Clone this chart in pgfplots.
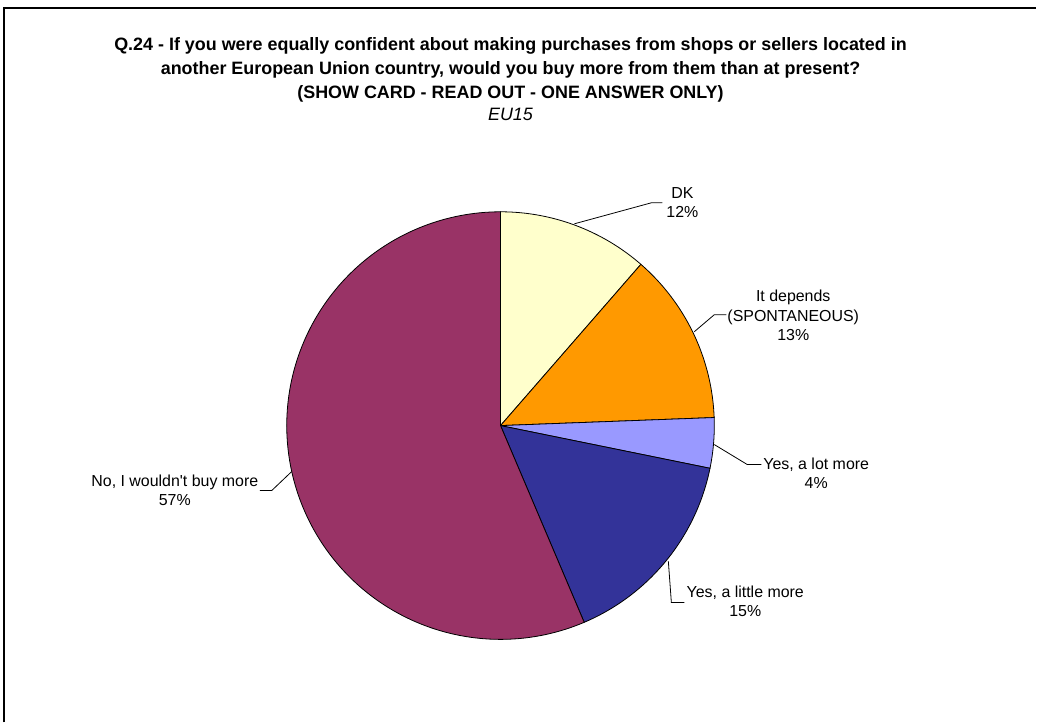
\documentclass[border=0pt]{standalone}
\usepackage{fontspec}
\setmainfont{Liberation Sans}[Ligatures=TeXOff]
\usepackage{pgfplots}
\pgfplotsset{compat=1.18}
\definecolor{cDK}{HTML}{FFFFCC}
\definecolor{cDep}{HTML}{FF9900}
\definecolor{cLot}{HTML}{9999FF}
\definecolor{cLit}{HTML}{333399}
\definecolor{cNo}{HTML}{993366}
\begin{document}
\begin{tikzpicture}[x=1bp,y=1bp]
% shares of the pie, in percent (as drawn)
\pgfmathsetmacro\vDK{11.4}
\pgfmathsetmacro\vDep{13.0}
\pgfmathsetmacro\vLot{3.8}
\pgfmathsetmacro\vLit{15.4}
\pgfmathsetmacro\vNo{56.4}
\pgfmathsetmacro\aA{90}
\pgfmathsetmacro\aB{\aA-3.6*\vDK}
\pgfmathsetmacro\aC{\aB-3.6*\vDep}
\pgfmathsetmacro\aD{\aC-3.6*\vLot}
\pgfmathsetmacro\aE{\aD-3.6*\vLit}
\pgfmathsetmacro\aF{\aE-3.6*\vNo}
\begin{axis}[
  at={(0,0)}, anchor=south west,
  scale only axis, width=1037bp, height=723bp,
  xmin=0, xmax=1037, ymin=0, ymax=723,
  hide axis, clip=false,
]
\path (axis cs:0,0) rectangle (axis cs:1037,723);
% frame (partly visible)
\draw[line width=2bp] (axis cs:4.5,0) -- (axis cs:4.5,714.5) -- (axis cs:1037,714.5);
% slices
\addplot[fill=cDK, draw=black, line width=0.8bp, domain=\aB:\aA, samples=60, variable=\t]
  ({501+214*cos(t)}, {297+214*sin(t)}) -- (axis cs:501,297) -- cycle;
\addplot[fill=cDep, draw=black, line width=0.8bp, domain=\aC:\aB, samples=60, variable=\t]
  ({501+214*cos(t)}, {297+214*sin(t)}) -- (axis cs:501,297) -- cycle;
\addplot[fill=cLot, draw=black, line width=0.8bp, domain=\aD:\aC, samples=30, variable=\t]
  ({501+214*cos(t)}, {297+214*sin(t)}) -- (axis cs:501,297) -- cycle;
\addplot[fill=cLit, draw=black, line width=0.8bp, domain=\aE:\aD, samples=60, variable=\t]
  ({501+214*cos(t)}, {297+214*sin(t)}) -- (axis cs:501,297) -- cycle;
\addplot[fill=cNo, draw=black, line width=0.8bp, domain=\aF:\aE, samples=150, variable=\t]
  ({501+214*cos(t)}, {297+214*sin(t)}) -- (axis cs:501,297) -- cycle;
% leader lines
\draw[line width=0.8bp] (axis cs:575,499) -- (axis cs:652,520) -- (axis cs:663,520);
\draw[line width=0.8bp] (axis cs:695,391) -- (axis cs:715,408) -- (axis cs:727,408);
\draw[line width=0.8bp] (axis cs:715,278) -- (axis cs:748,258) -- (axis cs:762,258);
\draw[line width=0.8bp] (axis cs:669,161) -- (axis cs:672,120) -- (axis cs:685,120);
\draw[line width=0.8bp] (axis cs:292,251) -- (axis cs:272,232) -- (axis cs:260,232);
% labels
\tikzset{lab/.style={font=\fontsize{16}{19.5}\selectfont, align=center, inner sep=0pt}}
\node[lab] at (axis cs:683,520) {DK\\12\%};
\node[lab] at (axis cs:794,407) {It depends\\(SPONTANEOUS)\\13\%};
\node[lab] at (axis cs:817,249) {Yes, a lot more\\4\%};
\node[lab] at (axis cs:746,121) {Yes, a little more\\15\%};
\node[lab] at (axis cs:175,232) {No, I wouldn't buy more\\57\%};
% title
\node[font=\fontsize{18}{24.5}\selectfont\bfseries, align=center, inner sep=0pt, anchor=north] at (axis cs:511,686)
  {Q.24 - If you were equally confident about making purchases from shops or sellers located in\\
   another European Union country, would you buy more from them than at present?\\
   (SHOW CARD - READ OUT - ONE ANSWER ONLY)};
\node[font=\fontsize{18}{18}\selectfont\itshape, inner sep=0pt] at (axis cs:511,608) {EU15};
\end{axis}
\end{tikzpicture}
\end{document}
